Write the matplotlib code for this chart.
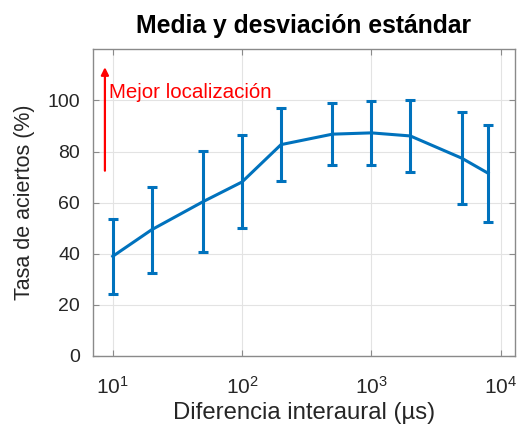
import matplotlib
matplotlib.use("Agg")
import matplotlib.pyplot as plt
import numpy as np

plt.rcParams['font.family'] = ['Liberation Sans', 'DejaVu Sans']

# Interaural time difference (µs) and localisation hit rate (%)
itd_us = [10, 20, 50, 100, 200, 500, 1000, 2000, 5000, 8000]
mean_pct = [39.0, 49.4, 60.4, 68.1, 82.7, 86.8, 87.3, 86.1, 77.4, 71.5]
std_pct = [14.6, 16.8, 19.9, 18.2, 14.2, 12.1, 12.5, 14.0, 18.1, 19.0]

y_ticks = [0, 20, 40, 60, 80, 100]
x_ticks = [10, 100, 1000, 10000]

blue = '#0072BD'
txt = '#262626'

fig = plt.figure(figsize=(5.2, 4.28), dpi=100)
ax = fig.add_axes([92.7 / 520, 1 - 356 / 428, (515 - 92.7) / 520, (356 - 49.3) / 428])

ax.errorbar(itd_us, mean_pct, yerr=std_pct, color=blue, lw=2.2,
            elinewidth=2.2, capsize=3.5, capthick=2.2, zorder=3)

ax.set_xscale('log')
ax.set_xlim(7.0, 12900)
ax.set_ylim(0, 120)
ax.set_xticks(x_ticks)
ax.xaxis.set_minor_locator(matplotlib.ticker.NullLocator())
ax.set_yticks(y_ticks)

ax.grid(True, color='#e3e3e3', lw=0.8, zorder=0)
ax.set_axisbelow(True)
for s in ax.spines.values():
    s.set_color('#8a8a8a')
    s.set_linewidth(1.0)
ax.tick_params(which='both', direction='in', top=True, right=True,
               length=4, width=0.8, color='#8a8a8a', labelcolor=txt)
ax.tick_params(axis='y', labelsize=14, pad=9)
ax.tick_params(axis='x', labelsize=15, pad=14)

ax.set_xlabel('Diferencia interaural (µs)', fontsize=17.2, color=txt, labelpad=3)
ax.set_ylabel('Tasa de aciertos (%)', fontsize=15.5, color=txt, labelpad=9)
ax.set_title('Media y desviación estándar', fontsize=17.8, fontweight='bold',
             color='black', pad=12)

# Direction-of-improvement marker
ax.annotate('', xy=(8.7, 113), xytext=(8.7, 72.5),
            arrowprops=dict(arrowstyle='-|>', color='red', lw=1.6,
                            mutation_scale=11, shrinkA=0, shrinkB=0))
ax.text(9.35, 103.0, 'Mejor localización', color='red', fontsize=14.8,
        va='center', ha='left')

fig.savefig('out.png', dpi=100)
